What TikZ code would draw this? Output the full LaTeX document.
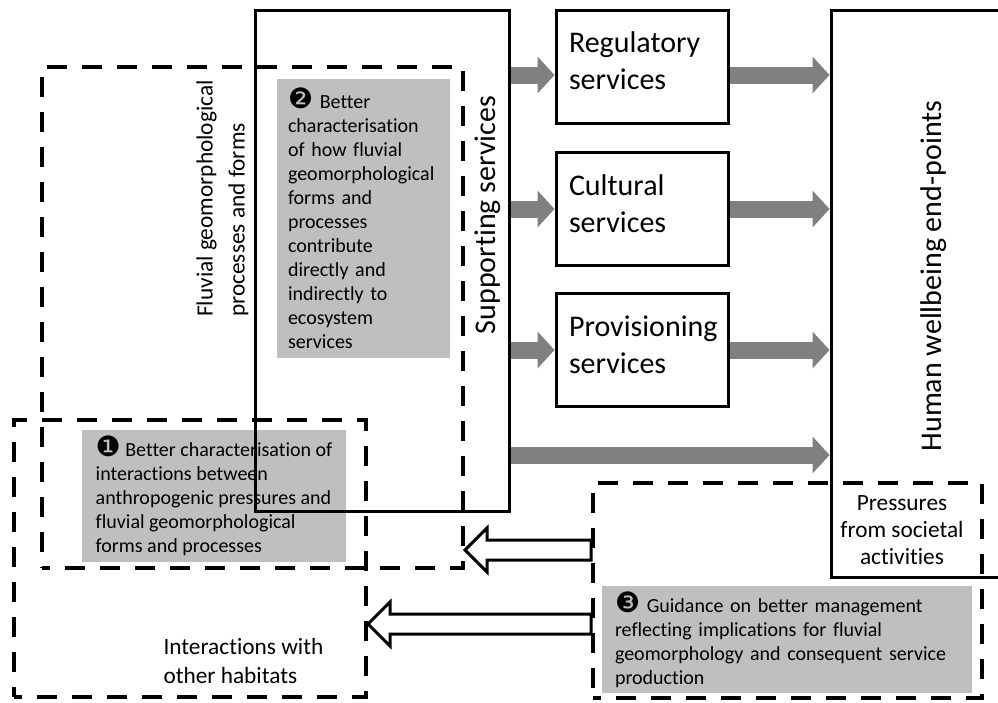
\documentclass[tikz,border=0pt]{standalone}
\usepackage{fontspec}
\setmainfont{Carlito}[Ligatures=NoCommon]
\newfontfamily\dingfont{DejaVu Sans}[Scale=1.4]
\usetikzlibrary{arrows.meta, positioning, calc}

\newcommand{\bigtext}{\fontsize{30}{37}\selectfont}
\newcommand{\midtext}{\fontsize{23.3}{32}\selectfont}
\newcommand{\presstext}{\fontsize{23.3}{27}\selectfont}
\newcommand{\intertext}{\fontsize{23.3}{29}\selectfont}
\newcommand{\smalltext}{\fontsize{20}{24}\selectfont}

\begin{document}
\begin{tikzpicture}[x=1pt, y=-1pt,
  solidbox/.style={draw, line width=3pt, inner sep=0pt},
  dashbox/.style={draw, line width=4pt, dash pattern=on 20pt off 15pt, dash phase=12pt, inner sep=0pt},
  notebox/.style={fill=black!25, align=left, inner xsep=11pt, inner ysep=0pt, font=\smalltext},
  svcbox/.style={solidbox, minimum width=172pt, minimum height=113pt, align=left,
    text width=146pt, text depth=48pt, inner xsep=13pt, font=\bigtext},
  grayarrow/.style={draw=black!50, line width=17pt,
    -{Triangle[length=17pt, width=37pt, line width=0pt]}},
  hollowarrow/.style={draw, line width=3pt, fill=white, line join=miter}
]
\useasboundingbox (0,0) rectangle (998,702);

% Grey notes
\node[notebox, text width=151pt, minimum height=279pt] (note2) at (363.5,218.5)
  {{\dingfont ❷} Better\\characterisation\\of how fluvial\\geomorphological\\forms and\\processes\\contribute\\directly and\\indirectly to\\ecosystem\\services};
\node[notebox, minimum width=264pt, minimum height=132pt] (note1) at (214,496)
  {{\dingfont ❶} Better characterisation of\\interactions between\\anthropogenic pressures and\\fluvial geomorphological\\forms and processes};
\node[notebox, text width=344pt, inner xsep=13pt, minimum height=107pt] (note3) at (787,639.5)
  {{\dingfont ❸} Guidance on better management\\reflecting implications for fluvial\\geomorphology and consequent service\\production};

% Solid boxes
\node[solidbox, minimum width=254pt, minimum height=501pt] (supp) at (382,260.5) {};
\node[solidbox, minimum width=180pt, minimum height=567pt] (human) at (921,293.5) {};
\node[svcbox] (reg) at (642,66.5) {Regulatory\\services};
\node[svcbox] (cult) at (642,209) {Cultural\\services};
\node[svcbox] (prov) at (642,350) {Provisioning\\services};

% Dashed boxes
\node[dashbox, minimum width=421pt, minimum height=501pt] (flu) at (252.5,317.5) {};
\node[dashbox, minimum width=352pt, minimum height=277pt] (inter) at (190,558.5) {};
\node[dashbox, minimum width=389pt, minimum height=215pt] (press) at (787.5,590.5) {};

% Labels
\node[rotate=90, align=left, font=\midtext] (flutxt) at (222.5,198.5)
  {Fluvial geomorphological\\processes and forms};
\node[rotate=90, font=\bigtext] (supptxt) at (488,215) {Supporting services};
\node[rotate=90, font=\bigtext] (humantxt) at (934,276) {Human wellbeing end-points};
\node[align=center, font=\presstext] (presstxt) at (902,530)
  {Pressures\\from societal\\activities};
\node[anchor=west, align=left, font=\intertext] (intertxt) at (160,661)
  {Interactions with\\other habitats};

% Service flows
\draw[grayarrow] ($(supp.east |- reg.west)+(0,8.5)$) -- ($(reg.west)+(0,8.5)$);
\draw[grayarrow] (supp.east |- cult.west) -- (cult.west);
\draw[grayarrow] (supp.east |- prov.west) -- (prov.west);
\draw[grayarrow] ($(reg.east)+(0,8.5)$) -- ($(human.west |- reg.east)+(0,8.5)$);
\draw[grayarrow] (cult.east) -- (human.west |- cult.east);
\draw[grayarrow] (prov.east) -- (human.west |- prov.east);
\coordinate (longy) at (0,455);
\draw[grayarrow] (supp.east |- longy) -- (human.west |- longy);

% Management feedback
\coordinate (upy) at (0,550);
\coordinate (lowy) at (0,624);
\foreach \goal/\lvl in {flu/upy, inter/lowy} {
  \coordinate (tip) at (\goal.east |- \lvl);
  \coordinate (tail) at (press.west |- \lvl);
  \draw[hollowarrow] ($(tail)+(0,-10)$) -- ($(tip)+(22,-10)$) -- ($(tip)+(22,-22)$)
    -- (tip) -- ($(tip)+(22,22)$) -- ($(tip)+(22,10)$) -- ($(tail)+(0,10)$) -- cycle;
}

\end{tikzpicture}
\end{document}
